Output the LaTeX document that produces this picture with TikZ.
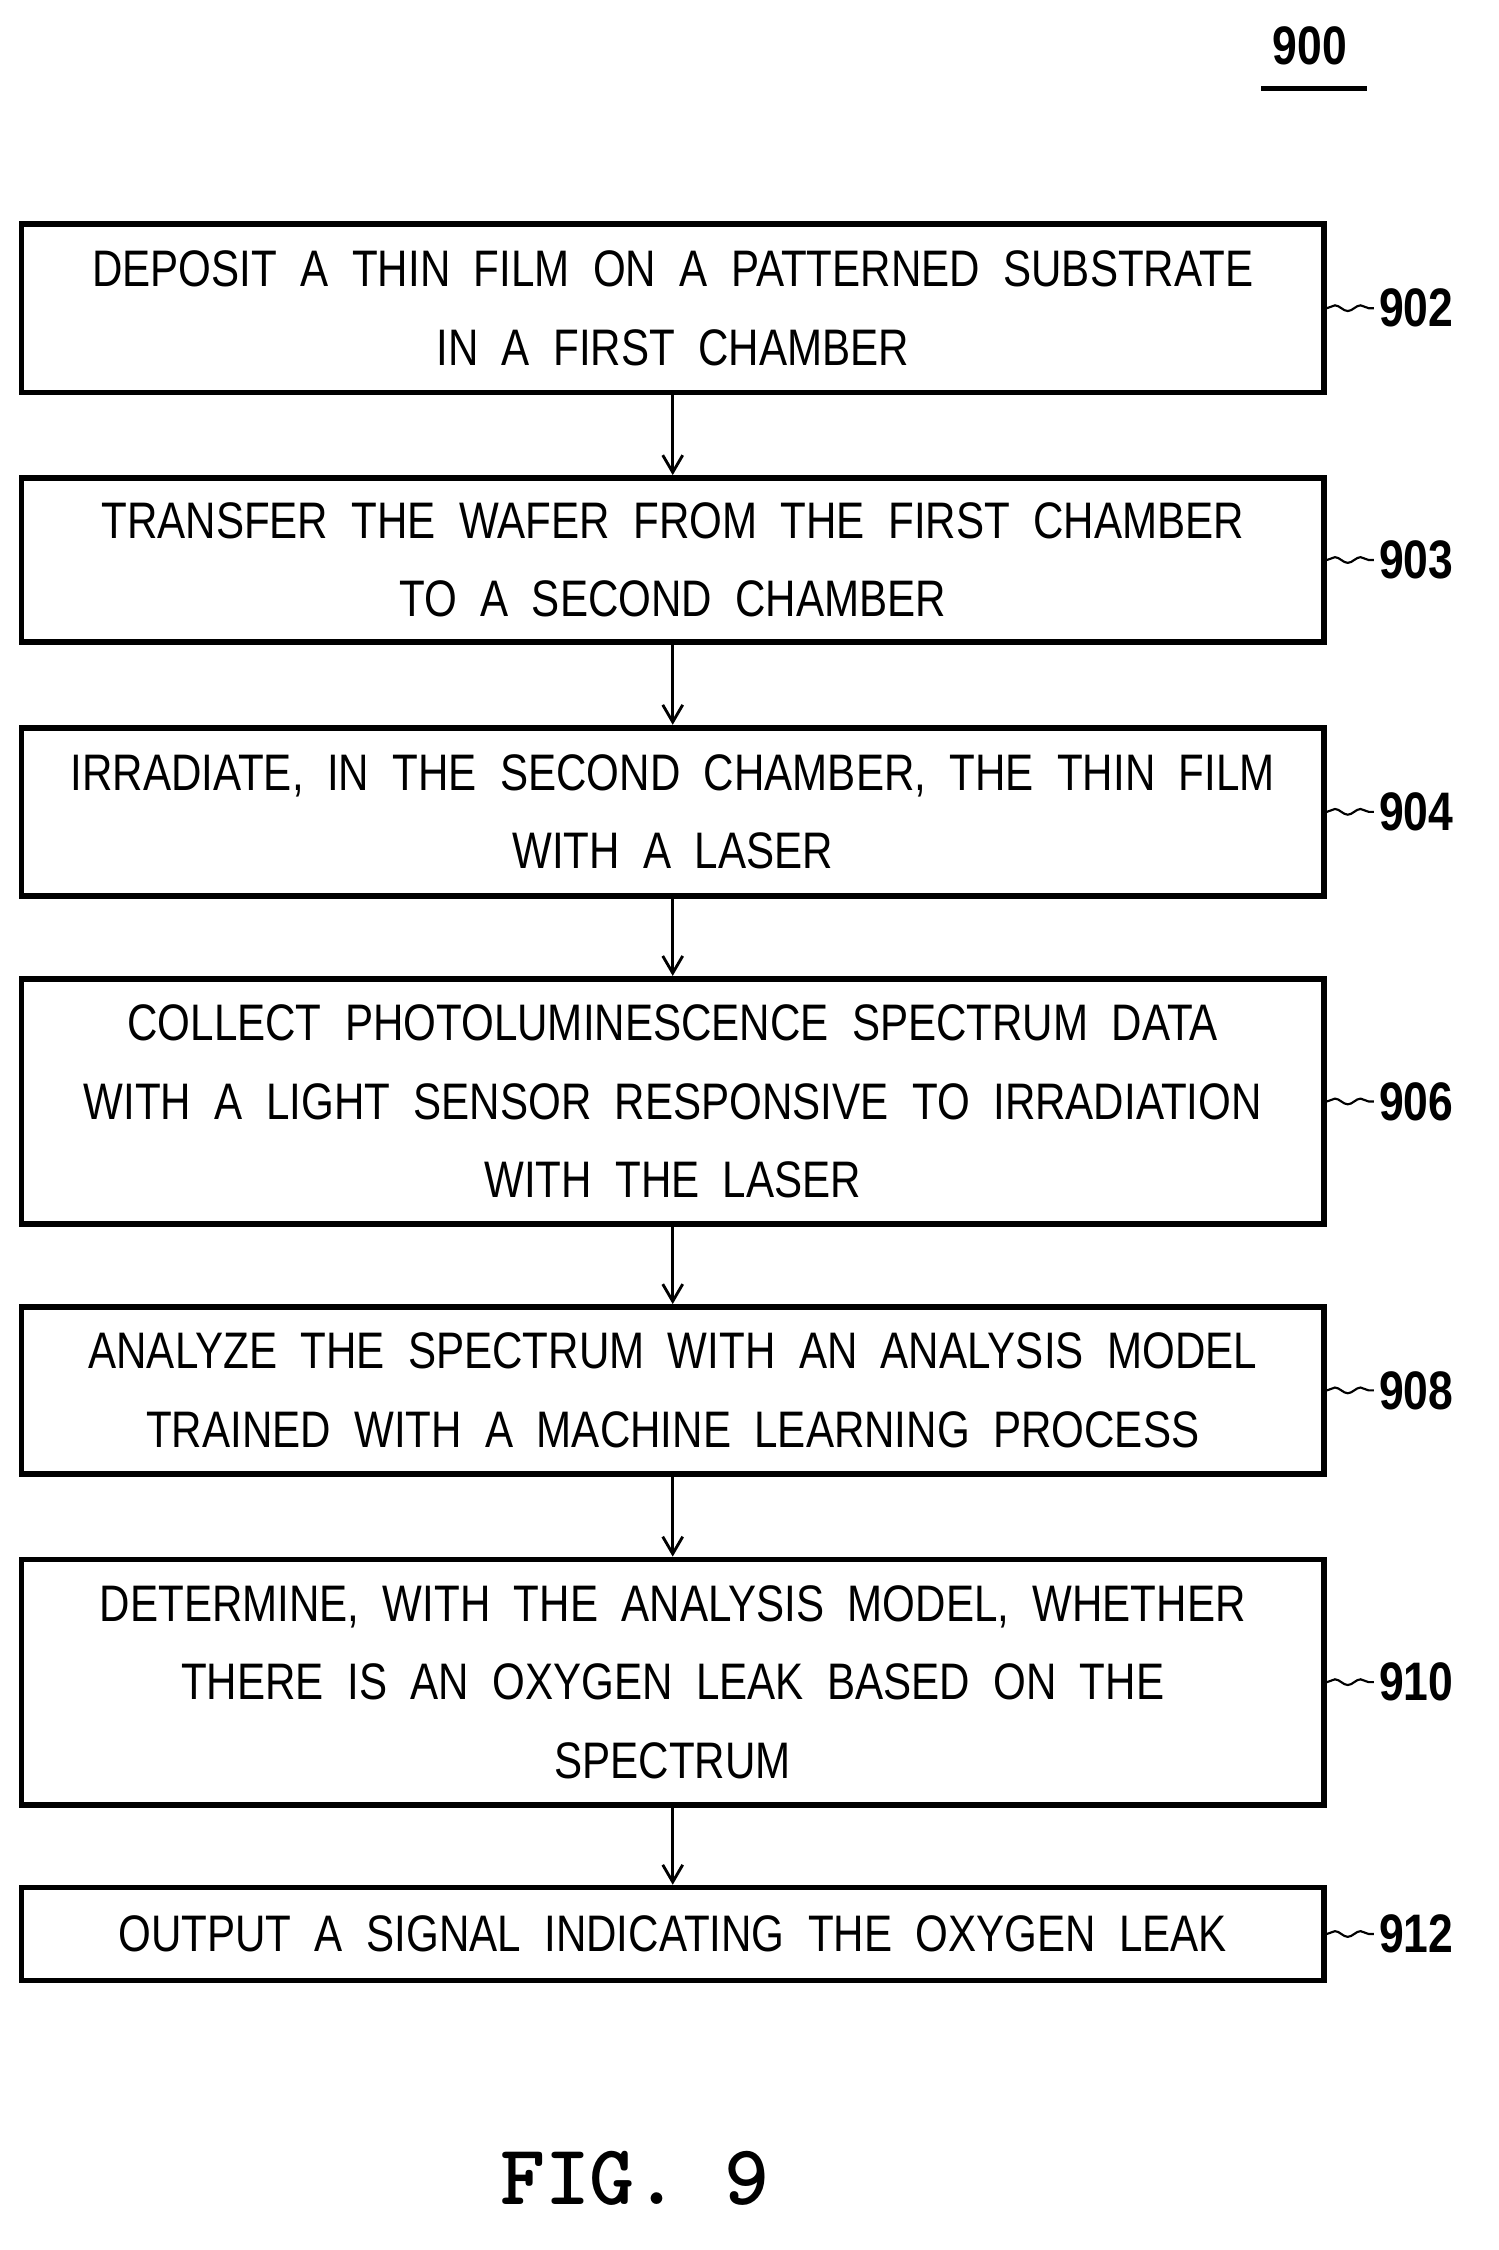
\documentclass[tikz,border=0pt]{standalone}
\usepackage{fontspec}
\setmainfont{Liberation Sans}[FakeStretch=0.82]
\usetikzlibrary{arrows.meta,decorations.pathmorphing}
\begin{document}
\begin{tikzpicture}[x=1pt,y=-1pt,
 box/.style={draw,line width=4pt,minimum width=913pt,align=center,font=\fontsize{36}{55}\selectfont,inner sep=0pt},
 lab/.style={font=\fontsize{38}{40}\selectfont\bfseries,anchor=west},
 arr/.style={line width=2pt,-{Straight Barb[length=12pt,width=14pt,line width=2pt]}},
 tld/.style={line width=1.5pt,decorate,decoration={snake,amplitude=2pt,segment length=18pt}}]
\useasboundingbox (0,0) rectangle (1050,1577);
\def\bx#1#2#3#4#5{\node[box,minimum height=#3pt] (#1) at (471.5,#2) {#4};
 \node[lab] (l#1) at (963,#2) {#5};
 \draw[tld] (#1.east) -- (l#1.west);}
\bx{a}{216}{118}{DEPOSIT\ \ A\ \ THIN\ \ FILM\ \ ON\ \ A\ \ PATTERNED\ \ SUBSTRATE\\IN\ \ A\ \ FIRST\ \ CHAMBER}{902}
\bx{b}{392.5}{115}{TRANSFER\ \ THE\ \ WAFER\ \ FROM\ \ THE\ \ FIRST\ \ CHAMBER\\TO\ \ A\ \ SECOND\ \ CHAMBER}{903}
\bx{c}{569}{118}{IRRADIATE,\ \ IN\ \ THE\ \ SECOND\ \ CHAMBER,\ \ THE\ \ THIN\ \ FILM\\WITH\ \ A\ \ LASER}{904}
\bx{d}{772}{172}{COLLECT\ \ PHOTOLUMINESCENCE\ \ SPECTRUM\ \ DATA\\WITH\ \ A\ \ LIGHT\ \ SENSOR\ \ RESPONSIVE\ \ TO\ \ IRRADIATION\\WITH\ \ THE\ \ LASER}{906}
\bx{e}{974.5}{117}{ANALYZE\ \ THE\ \ SPECTRUM\ \ WITH\ \ AN\ \ ANALYSIS\ \ MODEL\\TRAINED\ \ WITH\ \ A\ \ MACHINE\ \ LEARNING\ \ PROCESS}{908}
\bx{f}{1179}{172}{DETERMINE,\ \ WITH\ \ THE\ \ ANALYSIS\ \ MODEL,\ \ WHETHER\\THERE\ \ IS\ \ AN\ \ OXYGEN\ \ LEAK\ \ BASED\ \ ON\ \ THE\\SPECTRUM}{910}
\bx{g}{1355.5}{65}{OUTPUT\ \ A\ \ SIGNAL\ \ INDICATING\ \ THE\ \ OXYGEN\ \ LEAK}{912}
\foreach \p/\q in {a/b,b/c,c/d,d/e,e/f,f/g} \draw[arr] (\p) -- (\q);
\node[lab,anchor=center] (t) at (918,32) {900};
\draw[line width=3pt] (884,62) -- (958,62);
\node[font=\fontsize{60}{60}\selectfont\bfseries\ttfamily] (fig) at (445,1527) {FIG. 9};
\end{tikzpicture}
\end{document}
